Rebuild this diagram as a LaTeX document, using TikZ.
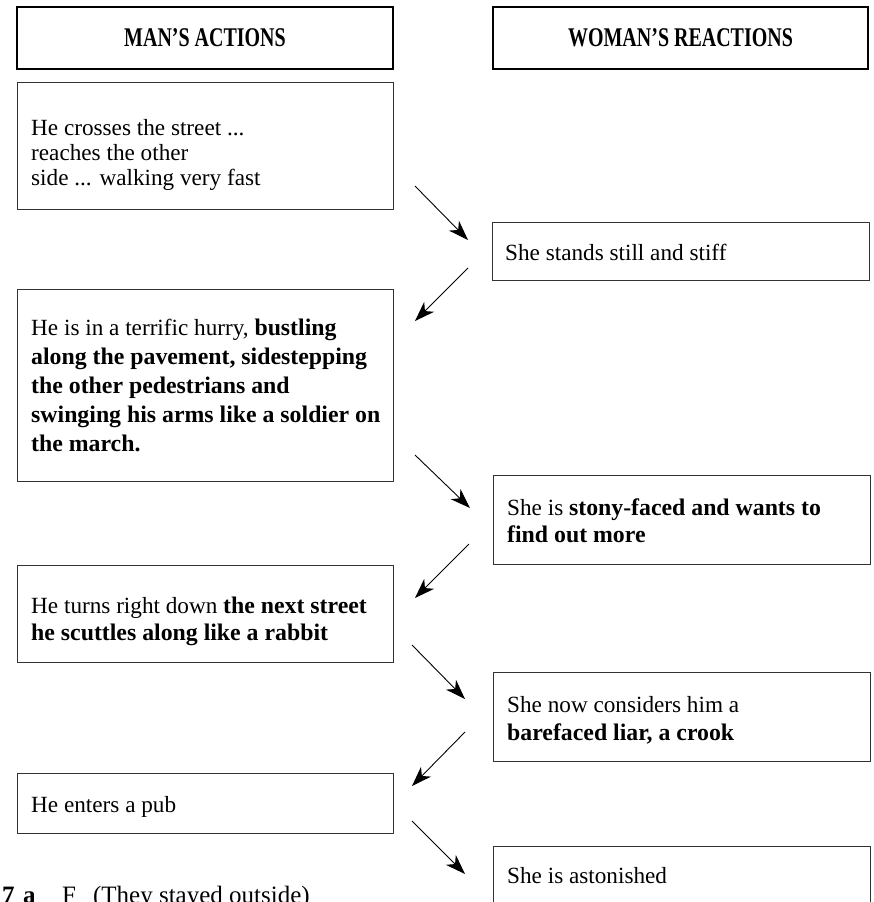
\documentclass[tikz,border=0pt]{standalone}
\usepackage{fontspec}
\setmainfont{Liberation Serif}
\newfontfamily\hdrfont[FakeStretch=0.74]{Liberation Serif}
\usetikzlibrary{arrows.meta}
\newcommand{\Bd}[1]{{\fontsize{23.8}{27}\selectfont\bfseries #1}}
\tikzset{
  hdr/.style={draw=black, line width=2.5pt, inner sep=0pt,
    font=\hdrfont\bfseries\fontsize{27}{30}\selectfont},
  boxl/.style={draw=black!80, line width=1.1pt, inner sep=0pt, anchor=north west,
    minimum width=376pt},
  boxr/.style={draw=black!80, line width=1.1pt, inner sep=0pt, anchor=north west,
    minimum width=377pt},
  txt/.style={inner sep=0pt, anchor=base west, align=left},
  arr/.style={line width=0.9pt, -{Stealth[length=20pt,width=14pt,inset=6pt]}}
}
\begin{document}
\begin{tikzpicture}[x=1pt,y=-1pt]
\useasboundingbox (0,0) rectangle (874,902);
\clip (0,0) rectangle (874,902);
% headers
\node[hdr, minimum width=376pt, minimum height=62pt] (hl) at (205,38) {MAN’S ACTIONS};
\node[hdr, minimum width=375pt, minimum height=62pt] (hr) at (680.5,38) {WOMAN’S REACTIONS};
% boxes
\node[boxl, minimum height=127pt] (b1) at (17,82) {};
\node[boxr, minimum height=58pt] (s1) at (492,222) {};
\node[boxl, minimum height=192pt] (b2) at (17,289) {};
\node[boxr, minimum height=89pt] (s2) at (493,475) {};
\node[boxl, minimum height=97pt] (b3) at (17,565) {};
\node[boxr, minimum height=89pt] (s3) at (493,672) {};
\node[boxl, minimum height=60pt] (b4) at (17,773) {};
\node[boxr, minimum height=90pt] (s4) at (493,846) {};
% texts (anchor = baseline of the last line)
\node[txt, font=\fontsize{23.2}{25}\selectfont] (b1t) at (31,185)
  {He crosses the street ...\\reaches the other\\side ... walking very fast};
\node[txt, font=\fontsize{23.2}{27}\selectfont] (s1t) at (505,260)
  {She stands still and stiff};
\node[txt, font=\fontsize{23.2}{29}\selectfont] (b2t) at (31,451)
  {He is in a terrific hurry, \Bd{bustling}\\\Bd{along the pavement, sidestepping}\\\Bd{the other pedestrians and}\\\Bd{swinging his arms like a soldier on}\\\Bd{the march.}};
\node[txt, font=\fontsize{23.2}{27}\selectfont] (s2t) at (507,542)
  {She is \Bd{stony-faced and wants to}\\\Bd{find out more}};
\node[txt, font=\fontsize{23.2}{27}\selectfont] (b3t) at (31,640)
  {He turns right down \Bd{the next street}\\\Bd{he scuttles along like a rabbit}};
\node[txt, font=\fontsize{23.2}{28}\selectfont] (s3t) at (507,740)
  {She now considers him a\\\Bd{barefaced liar, a crook}};
\node[txt, font=\fontsize{23.2}{27}\selectfont] (b4t) at (31,812)
  {He enters a pub};
\node[txt, font=\fontsize{23.2}{27}\selectfont] (s4t) at (507,883)
  {She is astonished};
\node[txt, font=\fontsize{25}{28}\selectfont] (foot) at (2,903.5)
  {\textbf{7}\hspace{8.5pt}\textbf{a}\hspace{26.5pt}F\hspace{17pt}(They stayed outside)};
% arrow end points
\coordinate (a1s) at (415,186); \coordinate (a1e) at (468,240);
\coordinate (a2s) at (468,268); \coordinate (a2e) at (415,321);
\coordinate (a3s) at (415,455); \coordinate (a3e) at (470,508);
\coordinate (a4s) at (469,544); \coordinate (a4e) at (415,598);
\coordinate (a5s) at (412,645); \coordinate (a5e) at (465,699);
\coordinate (a6s) at (465,732); \coordinate (a6e) at (412,786);
\coordinate (a7s) at (412,821); \coordinate (a7e) at (465,874);
\draw[arr] (a1s) -- (a1e);
\draw[arr] (a2s) -- (a2e);
\draw[arr] (a3s) -- (a3e);
\draw[arr] (a4s) -- (a4e);
\draw[arr] (a5s) -- (a5e);
\draw[arr] (a6s) -- (a6e);
\draw[arr] (a7s) -- (a7e);
\end{tikzpicture}
\end{document}
